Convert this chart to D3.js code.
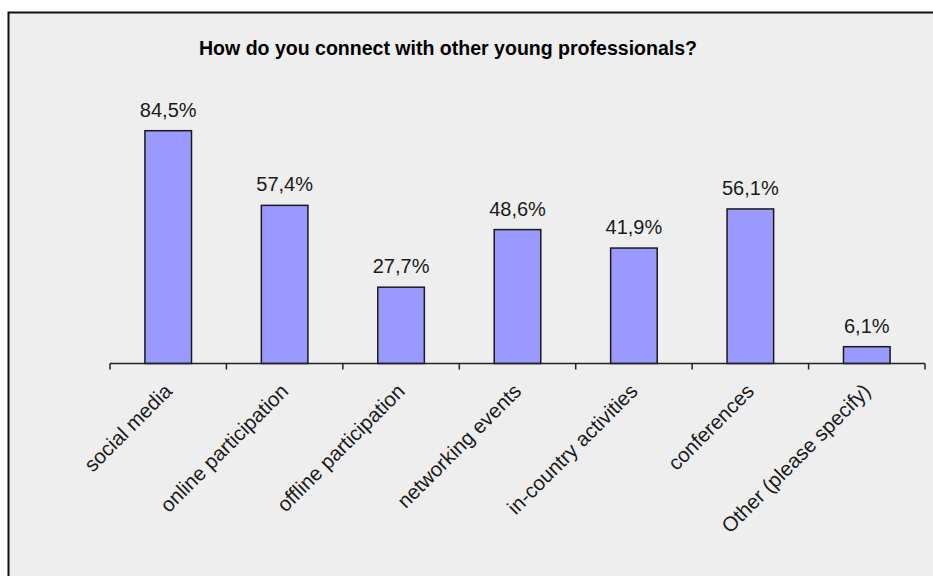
<!DOCTYPE html>
<html>
<head>
<meta charset="utf-8">
<script src="https://cdn.jsdelivr.net/npm/d3@7"></script>
<style>
  html, body { margin: 0; padding: 0; background: #ffffff; }
  svg { display: block; }
</style>
</head>
<body>
<svg id="chart" width="933" height="576"></svg>
<script>
// Survey answers: share of respondents per connection channel
const categories = [
  "social media",
  "online participation",
  "offline participation",
  "networking events",
  "in-country activities",
  "conferences",
  "Other (please specify)"
];
const values = [84.5, 57.4, 27.7, 48.6, 41.9, 56.1, 6.1];
const valueLabels = ["84,5%", "57,4%", "27,7%", "48,6%", "41,9%", "56,1%", "6,1%"];
const title = "How do you connect with other young professionals?";

const svg = d3.select("#chart");
const W = 933, H = 576;

// Chart area panel with dark frame on top and left
svg.append("rect")
  .attr("x", 8.5).attr("y", 12.5)
  .attr("width", W).attr("height", H)
  .attr("fill", "#eeeeee")
  .attr("stroke", "#111111")
  .attr("stroke-width", 2);

const baseY = 363.5;
const x = d3.scaleBand()
  .domain(categories)
  .range([110, 925])
  .paddingInner(0.6)
  .paddingOuter(0.3);

const y = d3.scaleLinear()
  .domain([0, 100])
  .range([baseY, baseY - 275.5]);

// Bars
svg.append("g")
  .selectAll("rect")
  .data(categories)
  .join("rect")
  .attr("x", d => x(d))
  .attr("width", x.bandwidth())
  .attr("y", (d, i) => y(values[i]))
  .attr("height", (d, i) => baseY - y(values[i]))
  .attr("fill", "#9999ff")
  .attr("stroke", "#1a1a1a")
  .attr("stroke-width", 1.5);

// Category axis with ticks on band boundaries
const axisG = svg.append("g").attr("transform", `translate(0,${baseY})`);
axisG.append("line")
  .attr("x1", 110).attr("x2", 925)
  .attr("y1", 0).attr("y2", 0)
  .attr("stroke", "#222").attr("stroke-width", 1.5);
const boundaries = d3.range(categories.length + 1).map(i => 110 + i * (815 / categories.length));
axisG.selectAll("line.tick")
  .data(boundaries)
  .join("line")
  .attr("class", "tick")
  .attr("x1", d => d).attr("x2", d => d)
  .attr("y1", 0).attr("y2", 6)
  .attr("stroke", "#222").attr("stroke-width", 1.5);

// Rotated category labels
svg.append("g")
  .selectAll("text")
  .data(categories)
  .join("text")
  .attr("text-anchor", "end")
  .attr("transform", d => `translate(${x(d) + x.bandwidth() / 2 + 5},${baseY + 29}) rotate(-45)`)
  .attr("font-family", "Liberation Sans, Arial, sans-serif")
  .attr("font-size", 20.5)
  .attr("fill", "#1a1a1a")
  .text(d => d);

// Value labels above bars
svg.append("g")
  .selectAll("text")
  .data(categories)
  .join("text")
  .attr("text-anchor", "middle")
  .attr("x", d => x(d) + x.bandwidth() / 2)
  .attr("y", (d, i) => y(values[i]) - 14)
  .attr("font-family", "Liberation Sans, Arial, sans-serif")
  .attr("font-size", 20)
  .attr("fill", "#1a1a1a")
  .text((d, i) => valueLabels[i]);

// Title
svg.append("text")
  .attr("x", 199)
  .attr("y", 55)
  .attr("font-family", "Liberation Sans, Arial, sans-serif")
  .attr("font-weight", "bold")
  .attr("font-size", 20)
  .attr("textLength", 498)
  .attr("lengthAdjust", "spacingAndGlyphs")
  .attr("fill", "#000")
  .text(title);
</script>
</body>
</html>
